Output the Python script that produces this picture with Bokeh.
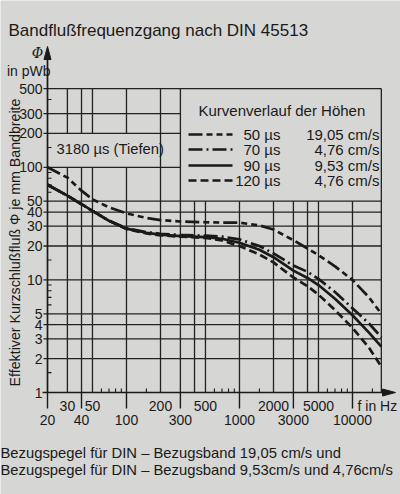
import math
from bokeh.plotting import figure
from bokeh.models import Range1d
from bokeh.core.properties import value
from bokeh.embed import file_html
from bokeh.resources import INLINE

# ---------------- data ----------------
freq = [20, 30, 40, 50, 70, 100, 150, 200, 300, 500, 700, 1000, 1500, 2000,
        3000, 4000, 5000, 7000, 10000, 14000, 18000]
phi_50us = [100, 81, 62, 52, 44, 39, 35.5, 34, 33, 32.5, 32.3, 32.2, 30.5, 28,
            22.5, 19, 16.6, 13.2, 10, 7.0, 5.0]
phi_70us = [70, 56, 47, 41, 33.5, 28.8, 26.6, 25.7, 25.1, 24.7, 24.2, 22.9, 20.0,
            17.2, 13.4, 11.8, 10.2, 7.8, 5.6, 4.1, 3.1]
phi_90us = [70, 56, 47, 41, 33.5, 28.5, 26.2, 25.2, 24.5, 24.0, 23.2, 21.4, 18.5,
            15.9, 12.1, 10.4, 9.0, 6.8, 4.85, 3.4, 2.55]
phi_120us = [70, 56, 47, 41, 33.5, 28.3, 25.9, 24.9, 24.2, 23.6, 22.4, 20.0, 16.8,
             14.3, 10.5, 8.8, 7.4, 5.4, 3.75, 2.5, 1.7]

legend_names = ["50 µs", "70 µs", "90 µs", "120 µs"]
legend_speeds = ["19,05 cm/s", "4,76 cm/s", "9,53 cm/s", "4,76 cm/s"]

f_min, f_max = 20, 18000
x_grid_left = [30, 40, 50, 100]          # interrupted by the 3180 µs box
x_grid_full = [200, 300]                  # up to 500
x_grid_low = [400, 500, 1000, 2000, 3000, 4000, 5000, 10000]  # up to 50
y_grid_full = [2, 3, 4, 5, 10, 20, 30, 40, 50]
y_grid_left = [100, 200, 300]
y_min, y_max = 1, 500
y_tick_values = [1, 2, 3, 4, 5, 10, 20, 30, 40, 50, 100, 200, 300, 500]
y_minor = [1.5, 6, 7, 8, 9, 15, 60, 70, 80, 90, 150, 400]
x_labels_upper = [30, 50, 200, 500, 2000, 5000]
x_labels_lower = [20, 40, 100, 300, 1000, 3000, 10000]
x_minor = [60, 70, 80, 90, 150, 600, 700, 800, 900, 1500, 6000, 7000, 8000, 9000, 15000]

# ---------------- layout ----------------
W, H = 400, 494
X0, PXX = 47, 113.0      # screen x of 20 Hz, px per decade
Y0, PXY = 392, 112.6     # screen y of value 1, px per decade
BG = "#d6d6d4"
INK = "#1a1a1a"
GRID = "#222222"
FONT = value("Liberation Sans")


def xd(px):
    return f_min * 10 ** ((px - X0) / PXX)


def yd(py):
    return 10 ** ((Y0 - py) / PXY)


p = figure(width=W, height=H, x_axis_type="log", y_axis_type="log",
           x_range=Range1d(xd(0), xd(W)), y_range=Range1d(yd(H), yd(0)),
           x_axis_location=None, y_axis_location=None,
           output_backend="svg", toolbar_location=None, min_border=0,
           background_fill_color=BG, border_fill_color=BG,
           outline_line_color=None)
p.title.visible = False
for g in p.grid:
    g.visible = False

# ---------------- grid ----------------
x0s, y0s, x1s, y1s = [], [], [], []
for x in x_grid_left:
    x0s += [x, x]; x1s += [x, x]
    y0s += [y_min, 200]; y1s += [100, y_max]
for x in x_grid_full + [f_max]:
    x0s.append(x); x1s.append(x); y0s.append(y_min); y1s.append(y_max)
for x in x_grid_low:
    x0s.append(x); x1s.append(x); y0s.append(y_min); y1s.append(50)
for y in y_grid_full + [y_max]:
    x0s.append(xd(X0 - 4)); x1s.append(f_max); y0s.append(y); y1s.append(y)
for y in y_grid_left:
    x0s.append(xd(X0 - 4)); x1s.append(300); y0s.append(y); y1s.append(y)
p.segment(x0=x0s, y0=y0s, x1=x1s, y1=y1s, line_color=GRID, line_width=1.3)

# axes lines
p.segment(x0=[f_min, xd(X0 - 5)], y0=[y_min, y_min], x1=[f_min, xd(W - 14)], y1=[yd(55), y_min],
          line_color=INK, line_width=1.7)
# arrow heads
p.patches(xs=[[f_min, xd(X0 - 3.5), xd(X0 + 3.5)], [xd(W - 5), xd(W - 18), xd(W - 18)]],
          ys=[[yd(46), yd(59), yd(59)], [y_min, yd(Y0 - 3.5), yd(Y0 + 3.5)]],
          fill_color=INK, line_color=INK)

# minor ticks
p.segment(x0=[f_min] * len(y_minor), y0=y_minor, x1=[xd(X0 + 4)] * len(y_minor), y1=y_minor,
          line_color=INK, line_width=1.1)
p.segment(x0=x_minor, y0=[y_min] * len(x_minor), x1=x_minor, y1=[yd(Y0 - 4)] * len(x_minor),
          line_color=INK, line_width=1.1)
# long ticks below the axis
p.segment(x0=x_labels_lower, y0=[y_min] * len(x_labels_lower), x1=x_labels_lower,
          y1=[yd(Y0 + 16)] * len(x_labels_lower), line_color=INK, line_width=1.4)

# ---------------- curves ----------------
p.line(freq, phi_50us, line_color=INK, line_width=2.7, line_dash="14 4 6 4 6 4")
p.line(freq, phi_70us, line_color=INK, line_width=2.7, line_dash="14 4 2 4")
p.line(freq, phi_90us, line_color=INK, line_width=2.7)
p.line(freq, phi_120us, line_color=INK, line_width=2.7, line_dash="8 4")

# ---------------- texts ----------------
def txt(x, y, t, size="14px", align="left", font=FONT, style="normal", angle=0.0):
    p.text(x=x, y=y, text=t, text_font=font, text_font_size=value(size),
           text_font_style=style, text_align=align, text_baseline="middle",
           text_color=INK, angle=angle)

txt([xd(8)], [yd(30)], ["Bandflußfrequenzgang nach DIN 45513"], size="17px")
txt([xd(37)], [yd(52)], ["Φ"], size="14px", align="center", font=value("DejaVu Serif"), style="italic")
txt([xd(50)], [yd(70)], ["in pWb"], size="14px", align="right")

# y tick labels
txt([xd(42)] * len(y_tick_values), y_tick_values, [str(v) for v in y_tick_values],
    size="14px", align="right")
# x tick labels
txt(x_labels_upper, [yd(Y0 + 13)] * len(x_labels_upper), [str(v) for v in x_labels_upper],
    size="14px", align="center")
txt(x_labels_lower, [yd(Y0 + 27)] * len(x_labels_lower), [str(v) for v in x_labels_lower],
    size="14px", align="center")
txt([xd(357)], [yd(Y0 + 13)], ["f in Hz"], size="14px")

# rotated axis title
txt([xd(14)], [yd(240)], ["Effektiver Kurzschlußfluß  Φ je mm Bandbreite"],
    size="14.2px", align="center", angle=math.pi / 2)

# bass box
txt([xd(56)], [yd(148)], ["3180 µs (Tiefen)"], size="14.8px")

# legend
txt([xd(198)], [yd(110)], ["Kurvenverlauf der Höhen"], size="15px")
ly = [134, 149, 165, 180]
dashes = ["14 4 6 4 6 4", "14 4 2 4", "solid", "8 4"]
for i in range(4):
    p.line([xd(188), xd(232)], [yd(ly[i]), yd(ly[i])], line_color=INK, line_width=2.7,
           line_dash=dashes[i])
txt([xd(280)] * 4, [yd(v) for v in ly], legend_names, size="15px", align="right")
txt([xd(379)] * 4, [yd(v) for v in ly], legend_speeds, size="15px", align="right")

# caption
txt([xd(0)], [yd(452)], ["Bezugspegel für DIN – Bezugsband  19,05 cm/s und"], size="14.8px")
txt([xd(0)], [yd(469)], ["Bezugspegel für DIN – Bezugsband 9,53cm/s und 4,76cm/s"], size="14.8px")

open("out.html", "w").write(file_html(p, INLINE))
